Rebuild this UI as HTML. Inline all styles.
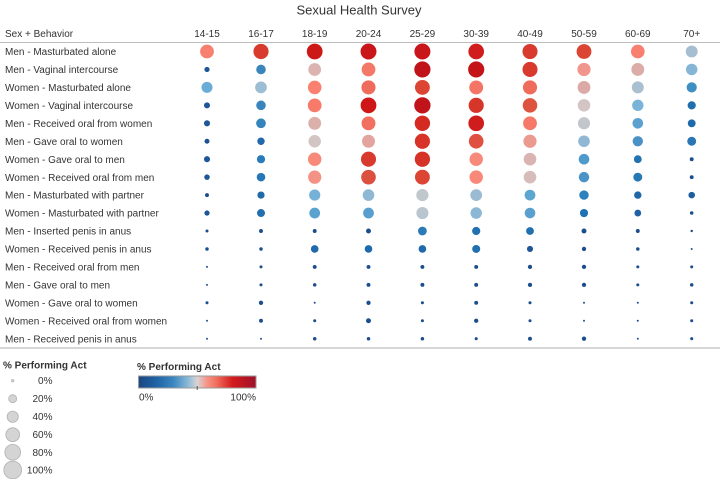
<!DOCTYPE html>
<html>
<head>
<meta charset="utf-8">
<style>
html,body{margin:0;padding:0;background:#fff;}
svg{display:block;}
text{font-family:"Liberation Sans",Arial,sans-serif;fill:#333;}
</style>
</head>
<body>
<svg width="720" height="479" viewBox="0 0 720 479" xmlns="http://www.w3.org/2000/svg">
<defs>
<linearGradient id="cg" x1="0" y1="0" x2="1" y2="0">
<stop offset="0" stop-color="#1c4682"/>
<stop offset="0.15" stop-color="#1f62a5"/>
<stop offset="0.3" stop-color="#3c88c0"/>
<stop offset="0.42" stop-color="#8ab9d8"/>
<stop offset="0.5" stop-color="#d8d4d4"/>
<stop offset="0.58" stop-color="#f6958a"/>
<stop offset="0.66" stop-color="#f2705f"/>
<stop offset="0.8" stop-color="#d31a1c"/>
<stop offset="1" stop-color="#a0102a"/>
</linearGradient>
</defs>

<text x="359" y="14.5" font-size="13" text-anchor="middle">Sexual Health Survey</text>

<g font-size="10">
<text x="5" y="37">Sex + Behavior</text>
<g text-anchor="middle">
<text x="207" y="37">14-15</text>
<text x="261" y="37">16-17</text>
<text x="314.7" y="37">18-19</text>
<text x="368.5" y="37">20-24</text>
<text x="422.4" y="37">25-29</text>
<text x="476.2" y="37">30-39</text>
<text x="530" y="37">40-49</text>
<text x="584" y="37">50-59</text>
<text x="637.8" y="37">60-69</text>
<text x="691.7" y="37">70+</text>
</g>
</g>
<rect x="0" y="42" width="720" height="1" fill="#bdbdbd"/>
<rect x="0" y="347" width="720" height="2" fill="#d6d6d6"/>

<g font-size="10">
<text x="5" y="55.1">Men - Masturbated alone</text>
<text x="5" y="73.05">Men - Vaginal intercourse</text>
<text x="5" y="91">Women - Masturbated alone</text>
<text x="5" y="108.95">Women - Vaginal intercourse</text>
<text x="5" y="126.9">Men - Received oral from women</text>
<text x="5" y="144.85">Men - Gave oral to women</text>
<text x="5" y="162.8">Women - Gave oral to men</text>
<text x="5" y="180.75">Women - Received oral from men</text>
<text x="5" y="198.7">Men - Masturbated with partner</text>
<text x="5" y="216.65">Women - Masturbated with partner</text>
<text x="5" y="234.6">Men - Inserted penis in anus</text>
<text x="5" y="252.55">Women - Received penis in anus</text>
<text x="5" y="270.5">Men - Received oral from men</text>
<text x="5" y="288.45">Men - Gave oral to men</text>
<text x="5" y="306.4">Women - Gave oral to women</text>
<text x="5" y="324.35">Women - Received oral from women</text>
<text x="5" y="342.3">Men - Received penis in anus</text>
</g>

<!-- Row 1 -->
<g transform="translate(0,51.5)">
<circle cx="207" cy="0" r="6.89" fill="#f88070"/>
<circle cx="261" cy="0" r="7.58" fill="#d83a2e"/>
<circle cx="314.7" cy="0" r="7.88" fill="#cd1818"/>
<circle cx="368.5" cy="0" r="7.97" fill="#c8161a"/>
<circle cx="422.4" cy="0" r="8.02" fill="#c8161a"/>
<circle cx="476.2" cy="0" r="7.83" fill="#d01c1c"/>
<circle cx="530" cy="0" r="7.53" fill="#d83a2e"/>
<circle cx="584" cy="0" r="7.42" fill="#dc4434"/>
<circle cx="637.8" cy="0" r="6.83" fill="#f88070"/>
<circle cx="691.7" cy="0" r="5.93" fill="#a6bed0"/>
</g>
<!-- Row 2 -->
<g transform="translate(0,69.45)">
<circle cx="207" cy="0" r="2.63" fill="#1e5697"/>
<circle cx="261" cy="0" r="4.79" fill="#3a85bc"/>
<circle cx="314.7" cy="0" r="6.37" fill="#dbb3b0"/>
<circle cx="368.5" cy="0" r="6.89" fill="#f47868"/>
<circle cx="422.4" cy="0" r="8.11" fill="#c0141a"/>
<circle cx="476.2" cy="0" r="8.07" fill="#c41418"/>
<circle cx="530" cy="0" r="7.53" fill="#d93a2e"/>
<circle cx="584" cy="0" r="6.61" fill="#f0968c"/>
<circle cx="637.8" cy="0" r="6.43" fill="#dcaca8"/>
<circle cx="691.7" cy="0" r="5.74" fill="#86b6d6"/>
</g>
<!-- Row 3 -->
<g transform="translate(0,87.4)">
<circle cx="207" cy="0" r="5.53" fill="#69acd8"/>
<circle cx="261" cy="0" r="5.87" fill="#9cbdd3"/>
<circle cx="314.7" cy="0" r="6.78" fill="#fa8070"/>
<circle cx="368.5" cy="0" r="7.05" fill="#ef6c5c"/>
<circle cx="422.4" cy="0" r="7.42" fill="#dc4434"/>
<circle cx="476.2" cy="0" r="6.95" fill="#f47565"/>
<circle cx="530" cy="0" r="7.05" fill="#ef6b5c"/>
<circle cx="584" cy="0" r="6.43" fill="#dcaaa6"/>
<circle cx="637.8" cy="0" r="6.00" fill="#aabfcf"/>
<circle cx="691.7" cy="0" r="5.10" fill="#3f8fc3"/>
</g>
<!-- Row 4 -->
<g transform="translate(0,105.35)">
<circle cx="207" cy="0" r="3.03" fill="#1e5697"/>
<circle cx="261" cy="0" r="4.79" fill="#3a85bc"/>
<circle cx="314.7" cy="0" r="6.89" fill="#f87a6a"/>
<circle cx="368.5" cy="0" r="7.88" fill="#cf1616"/>
<circle cx="422.4" cy="0" r="8.16" fill="#c0141a"/>
<circle cx="476.2" cy="0" r="7.58" fill="#d8352a"/>
<circle cx="530" cy="0" r="7.27" fill="#de5340"/>
<circle cx="584" cy="0" r="6.25" fill="#d3c5c4"/>
<circle cx="637.8" cy="0" r="5.67" fill="#7ab3d8"/>
<circle cx="691.7" cy="0" r="4.10" fill="#1f6fb0"/>
</g>
<!-- Row 5 -->
<g transform="translate(0,123.3)">
<circle cx="207" cy="0" r="3.03" fill="#1e5697"/>
<circle cx="261" cy="0" r="4.87" fill="#3584bc"/>
<circle cx="314.7" cy="0" r="6.43" fill="#dbb0ab"/>
<circle cx="368.5" cy="0" r="6.95" fill="#f27060"/>
<circle cx="422.4" cy="0" r="7.68" fill="#d42a22"/>
<circle cx="476.2" cy="0" r="7.83" fill="#d01c1c"/>
<circle cx="530" cy="0" r="6.89" fill="#f57868"/>
<circle cx="584" cy="0" r="6.13" fill="#c3c7cb"/>
<circle cx="637.8" cy="0" r="5.32" fill="#5ba2d0"/>
<circle cx="691.7" cy="0" r="3.91" fill="#1e6aad"/>
</g>
<!-- Row 6 -->
<g transform="translate(0,141.25)">
<circle cx="207" cy="0" r="2.47" fill="#1c5192"/>
<circle cx="261" cy="0" r="3.71" fill="#2269ab"/>
<circle cx="314.7" cy="0" r="6.25" fill="#d2c5c3"/>
<circle cx="368.5" cy="0" r="6.49" fill="#e3a49f"/>
<circle cx="422.4" cy="0" r="7.58" fill="#d73328"/>
<circle cx="476.2" cy="0" r="7.32" fill="#e05040"/>
<circle cx="530" cy="0" r="6.61" fill="#eb9a90"/>
<circle cx="584" cy="0" r="5.80" fill="#90b8d4"/>
<circle cx="637.8" cy="0" r="5.18" fill="#4a92c6"/>
<circle cx="691.7" cy="0" r="4.46" fill="#2a76b4"/>
</g>
<!-- Row 7 -->
<g transform="translate(0,159.2)">
<circle cx="207" cy="0" r="3.03" fill="#1e5697"/>
<circle cx="261" cy="0" r="4.10" fill="#2a7bba"/>
<circle cx="314.7" cy="0" r="6.72" fill="#f88a7b"/>
<circle cx="368.5" cy="0" r="7.53" fill="#d83a2e"/>
<circle cx="422.4" cy="0" r="7.63" fill="#d63328"/>
<circle cx="476.2" cy="0" r="6.72" fill="#f88a7b"/>
<circle cx="530" cy="0" r="6.31" fill="#dab4b0"/>
<circle cx="584" cy="0" r="5.32" fill="#4f9acc"/>
<circle cx="637.8" cy="0" r="3.91" fill="#2273b1"/>
<circle cx="691.7" cy="0" r="1.96" fill="#1c4e8e"/>
</g>
<!-- Row 8 -->
<g transform="translate(0,177.15)">
<circle cx="207" cy="0" r="2.77" fill="#1e5697"/>
<circle cx="261" cy="0" r="4.29" fill="#2677b6"/>
<circle cx="314.7" cy="0" r="6.61" fill="#f59286"/>
<circle cx="368.5" cy="0" r="7.32" fill="#dc5040"/>
<circle cx="422.4" cy="0" r="7.42" fill="#dc4434"/>
<circle cx="476.2" cy="0" r="6.72" fill="#f88878"/>
<circle cx="530" cy="0" r="6.31" fill="#d6bcba"/>
<circle cx="584" cy="0" r="5.25" fill="#4a94c8"/>
<circle cx="637.8" cy="0" r="4.46" fill="#2878b4"/>
<circle cx="691.7" cy="0" r="1.96" fill="#1c4e8e"/>
</g>
<!-- Row 9 -->
<g transform="translate(0,195.1)">
<circle cx="207" cy="0" r="1.96" fill="#1c4e8e"/>
<circle cx="261" cy="0" r="3.61" fill="#1f6aa8"/>
<circle cx="314.7" cy="0" r="5.60" fill="#76b2d8"/>
<circle cx="368.5" cy="0" r="5.80" fill="#8fb8d4"/>
<circle cx="422.4" cy="0" r="6.13" fill="#c0c8cc"/>
<circle cx="476.2" cy="0" r="5.87" fill="#9bbbd2"/>
<circle cx="530" cy="0" r="5.39" fill="#5ea6d2"/>
<circle cx="584" cy="0" r="4.71" fill="#2c80bc"/>
<circle cx="637.8" cy="0" r="3.71" fill="#1f67a8"/>
<circle cx="691.7" cy="0" r="3.27" fill="#1f5f9f"/>
</g>
<!-- Row 10 -->
<g transform="translate(0,213.05)">
<circle cx="207" cy="0" r="2.63" fill="#1e5597"/>
<circle cx="261" cy="0" r="4.01" fill="#226fb0"/>
<circle cx="314.7" cy="0" r="5.39" fill="#5aa3d0"/>
<circle cx="368.5" cy="0" r="5.39" fill="#569fcf"/>
<circle cx="422.4" cy="0" r="6.06" fill="#b9c6cf"/>
<circle cx="476.2" cy="0" r="5.74" fill="#8cb8d6"/>
<circle cx="530" cy="0" r="5.32" fill="#5aa0cf"/>
<circle cx="584" cy="0" r="4.10" fill="#2172b2"/>
<circle cx="637.8" cy="0" r="3.39" fill="#1f62a3"/>
<circle cx="691.7" cy="0" r="1.75" fill="#1c4e8e"/>
</g>
<!-- Row 11 -->
<g transform="translate(0,231)" fill="#1c4e8e">
<circle cx="207" cy="0" r="1.52"/>
<circle cx="261" cy="0" r="1.96"/>
<circle cx="314.7" cy="0" r="1.96"/>
<circle cx="368.5" cy="0" r="2.47"/>
<circle cx="422.4" cy="0" r="4.38" fill="#2a7bb8"/>
<circle cx="476.2" cy="0" r="4.10" fill="#2272b2"/>
<circle cx="530" cy="0" r="3.91" fill="#2170b0"/>
<circle cx="584" cy="0" r="2.47"/>
<circle cx="637.8" cy="0" r="1.96"/>
<circle cx="691.7" cy="0" r="1.24"/>
</g>
<!-- Row 12 -->
<g transform="translate(0,248.95)" fill="#1c4e8e">
<circle cx="207" cy="0" r="1.75"/>
<circle cx="261" cy="0" r="1.75"/>
<circle cx="314.7" cy="0" r="3.81" fill="#1e6aad"/>
<circle cx="368.5" cy="0" r="3.81" fill="#1e6aad"/>
<circle cx="422.4" cy="0" r="3.81" fill="#1e6aad"/>
<circle cx="476.2" cy="0" r="4.01" fill="#2170b0"/>
<circle cx="530" cy="0" r="3.03" fill="#1e5697"/>
<circle cx="584" cy="0" r="2.14"/>
<circle cx="637.8" cy="0" r="1.75"/>
<circle cx="691.7" cy="0" r="1.0"/>
</g>
<!-- Row 13 -->
<g transform="translate(0,266.9)" fill="#1c4e8e">
<circle cx="207" cy="0" r="1.0"/>
<circle cx="261" cy="0" r="1.52"/>
<circle cx="314.7" cy="0" r="1.96"/>
<circle cx="368.5" cy="0" r="1.96"/>
<circle cx="422.4" cy="0" r="1.96"/>
<circle cx="476.2" cy="0" r="1.96"/>
<circle cx="530" cy="0" r="2.14"/>
<circle cx="584" cy="0" r="2.14"/>
<circle cx="637.8" cy="0" r="1.52"/>
<circle cx="691.7" cy="0" r="1.52"/>
</g>
<!-- Row 14 -->
<g transform="translate(0,284.85)" fill="#1c4e8e">
<circle cx="207" cy="0" r="1.0"/>
<circle cx="261" cy="0" r="1.52"/>
<circle cx="314.7" cy="0" r="1.75"/>
<circle cx="368.5" cy="0" r="1.96"/>
<circle cx="422.4" cy="0" r="1.96"/>
<circle cx="476.2" cy="0" r="1.96"/>
<circle cx="530" cy="0" r="2.14"/>
<circle cx="584" cy="0" r="2.14"/>
<circle cx="637.8" cy="0" r="1.52"/>
<circle cx="691.7" cy="0" r="1.75"/>
</g>
<!-- Row 15 -->
<g transform="translate(0,302.8)" fill="#1c4e8e">
<circle cx="207" cy="0" r="1.52"/>
<circle cx="261" cy="0" r="2.14"/>
<circle cx="314.7" cy="0" r="1.0"/>
<circle cx="368.5" cy="0" r="2.14"/>
<circle cx="422.4" cy="0" r="1.52"/>
<circle cx="476.2" cy="0" r="1.96"/>
<circle cx="530" cy="0" r="1.52"/>
<circle cx="584" cy="0" r="1.0"/>
<circle cx="637.8" cy="0" r="1.0"/>
<circle cx="691.7" cy="0" r="1.52"/>
</g>
<!-- Row 16 -->
<g transform="translate(0,320.75)" fill="#1c4e8e">
<circle cx="207" cy="0" r="1.0"/>
<circle cx="261" cy="0" r="1.96"/>
<circle cx="314.7" cy="0" r="1.52"/>
<circle cx="368.5" cy="0" r="2.47"/>
<circle cx="422.4" cy="0" r="1.52"/>
<circle cx="476.2" cy="0" r="2.14"/>
<circle cx="530" cy="0" r="1.52"/>
<circle cx="584" cy="0" r="1.0"/>
<circle cx="637.8" cy="0" r="1.0"/>
<circle cx="691.7" cy="0" r="1.52"/>
</g>
<!-- Row 17 -->
<g transform="translate(0,338.7)" fill="#1c4e8e">
<circle cx="207" cy="0" r="1.0"/>
<circle cx="261" cy="0" r="1.0"/>
<circle cx="314.7" cy="0" r="1.75"/>
<circle cx="368.5" cy="0" r="1.75"/>
<circle cx="422.4" cy="0" r="1.75"/>
<circle cx="476.2" cy="0" r="1.52"/>
<circle cx="530" cy="0" r="1.96"/>
<circle cx="584" cy="0" r="2.14"/>
<circle cx="637.8" cy="0" r="1.0"/>
<circle cx="691.7" cy="0" r="1.52"/>
</g>

<!-- Size legend -->
<text x="3" y="368.5" font-size="10" font-weight="bold">% Performing Act</text>
<g fill="#d4d4d4" stroke="#b2b2b2" stroke-width="0.8">
<circle cx="12.7" cy="380.7" r="1.2"/>
<circle cx="12.7" cy="398.7" r="4.0"/>
<circle cx="12.7" cy="416.7" r="5.6"/>
<circle cx="12.7" cy="434.7" r="6.9"/>
<circle cx="12.7" cy="452.3" r="7.9"/>
<circle cx="12.7" cy="470" r="8.9"/>
</g>
<g font-size="10" text-anchor="end">
<text x="52.5" y="384.2">0%</text>
<text x="52.5" y="402.2">20%</text>
<text x="52.5" y="420.2">40%</text>
<text x="52.5" y="438.2">60%</text>
<text x="52.5" y="455.8">80%</text>
<text x="52.5" y="473.5">100%</text>
</g>

<!-- Color legend -->
<text x="137" y="370" font-size="10" font-weight="bold">% Performing Act</text>
<rect x="138.5" y="376" width="117.5" height="12" fill="url(#cg)" stroke="#9a9a9a" stroke-width="1"/>
<rect x="196.7" y="386" width="1" height="4" fill="#555"/>
<text x="139" y="400.5" font-size="10">0%</text>
<text x="256" y="400.5" font-size="10" text-anchor="end">100%</text>
</svg>
</body>
</html>
